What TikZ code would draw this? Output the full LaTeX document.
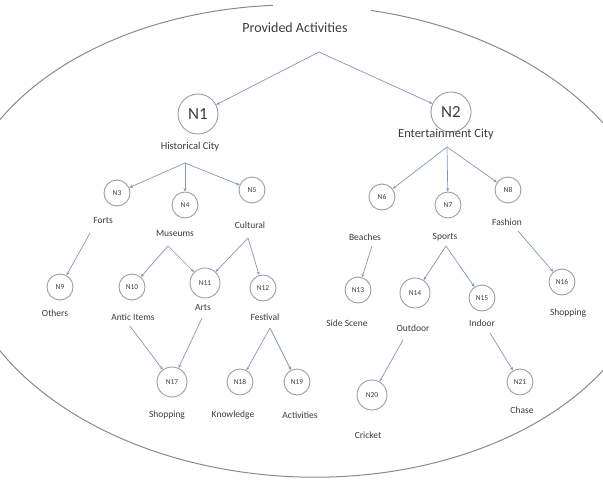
\documentclass[tikz,border=0pt]{standalone}
\usepackage{fontspec}
\setmainfont{Carlito}
\usetikzlibrary{arrows.meta}
\definecolor{circgray}{HTML}{969CA8}
\definecolor{txtgray}{HTML}{3C3C3C}
\definecolor{linecol}{HTML}{8496BC}
\definecolor{ellcol}{HTML}{8A8A8A}
\begin{document}
\begin{tikzpicture}[x=1pt,y=-1pt,
 circ/.style={circle,draw=circgray,line width=0.9pt,minimum size=26pt,inner sep=0pt,font=\fontsize{7.5}{8}\selectfont,text=txtgray},
 circl/.style={circ,minimum size=30pt},
 big/.style={circ,minimum size=40pt,font=\fontsize{17}{18}\selectfont},
 lbl/.style={font=\fontsize{9.5}{10}\selectfont,text=txtgray,inner sep=1pt},
 conn/.style={draw=linecol,line width=0.7pt,-{Stealth[length=3.5pt,width=3pt]}},
]
\useasboundingbox (0,0) rectangle (603,483);
\begin{scope}
\clip (0,0) rectangle (603,483);
\draw[ellcol,line width=1pt,rotate around={-2:(305,241)}] (305,241) ++(279.5:350 and 236) arc[start angle=279.5,end angle=623.4,x radius=350,y radius=236];
\end{scope}

\node[font=\fontsize{14}{15}\selectfont,text=txtgray] (title) at (295,28) {Provided Activities};
\coordinate (apex) at (319,52);

\node[big] (n1) at (198,114) {N1};
\node[font=\fontsize{10.5}{11}\selectfont,text=txtgray] (t1) at (190,147) {Historical City};
\coordinate (h1) at (185,163);
\node[big] (n2) at (451,112) {N2};
\node[font=\fontsize{12.5}{13}\selectfont,text=txtgray] (t2) at (446,134) {Entertainment City};
\coordinate (h2) at (447,147);

\node[circ] (n3) at (117,193) {N3};
\node[lbl] (t3) at (103,220) {Forts};
\coordinate (h3) at (90,233);
\node[circ] (n4) at (185,205) {N4};
\node[lbl] (t4) at (175,233) {Museums};
\coordinate (h4) at (168,246);
\node[circ] (n5) at (252,190) {N5};
\node[lbl] (t5) at (250,225) {Cultural};
\coordinate (h5) at (248,238);
\node[circ] (n6) at (382,197) {N6};
\node[lbl] (t6) at (365,237) {Beaches};
\coordinate (h6) at (372,246);
\node[circ] (n7) at (448,205) {N7};
\node[lbl] (t7) at (445,237) {Sports};
\coordinate (h7) at (446,246);
\node[circ] (n8) at (508,190) {N8};
\node[lbl] (t8) at (507,222) {Fashion};
\coordinate (h8) at (518,231);

\node[circ] (n9) at (60,287) {N9};
\node[lbl] (t9) at (55,313) {Others};
\node[circ] (n10) at (132,287) {N10};
\node[lbl] (t10) at (133,317) {Antic Items};
\coordinate (h10) at (130,326);
\node[circl] (n11) at (205,283) {N11};
\node[lbl] (t11) at (203,307) {Arts};
\coordinate (h11) at (202,318);
\node[circ] (n12) at (263,288) {N12};
\node[lbl] (t12) at (265,317) {Festival};
\coordinate (h12) at (270,328);
\node[circ] (n13) at (358,290) {N13};
\node[lbl] (t13) at (347,323) {Side Scene};
\node[circl] (n14) at (415,293) {N14};
\node[lbl] (t14) at (413,328) {Outdoor};
\coordinate (h14) at (403,340);
\node[circ] (n15) at (482,298) {N15};
\node[lbl] (t15) at (482,323) {Indoor};
\coordinate (h15) at (490,333);
\node[circ] (n16) at (562,282) {N16};
\node[lbl] (t16) at (568,313) {Shopping};

\node[circl] (n17) at (172,382) {N17};
\node[lbl] (t17) at (167,415) {Shopping};
\node[circ] (n18) at (240,382) {N18};
\node[lbl] (t18) at (233,415) {Knowledge};
\node[circ] (n19) at (297,382) {N19};
\node[lbl] (t19) at (300,415) {Activities};
\node[circl] (n20) at (372,395) {N20};
\node[lbl] (t20) at (368,435) {Cricket};
\node[circ] (n21) at (520,382) {N21};
\node[lbl] (t21) at (522,410) {Chase};

\draw[conn] (apex) -- (n1);
\draw[conn] (apex) -- (n2);
\draw[conn] (h1) -- (n3);
\draw[conn] (h1) -- (n4);
\draw[conn] (h1) -- (n5);
\draw[conn] (h2) -- (n6);
\draw[conn] (h2) -- (n7);
\draw[conn] (h2) -- (n8);
\draw[conn] (h3) -- (n9);
\draw[conn] (h4) -- (n10);
\draw[conn] (h4) -- (n11);
\draw[conn] (h5) -- (n11);
\draw[conn] (h5) -- (n12);
\draw[conn] (h6) -- (n13);
\draw[conn] (h7) -- (n14);
\draw[conn] (h7) -- (n15);
\draw[conn] (h8) -- (n16);
\draw[conn] (h10) -- (n17);
\draw[conn] (h11) -- (n17);
\draw[conn] (h12) -- (n18);
\draw[conn] (h12) -- (n19);
\draw[conn] (h14) -- (n20);
\draw[conn] (h15) -- (n21);
\end{tikzpicture}
\end{document}
